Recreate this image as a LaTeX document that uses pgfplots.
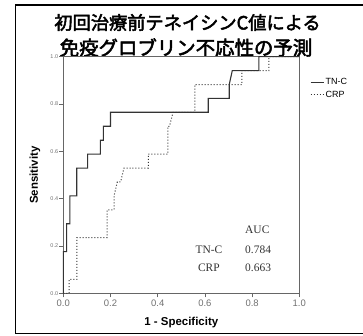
\documentclass[border=0pt]{standalone}
\usepackage{pgfplots}
\pgfplotsset{compat=1.18}
\usepackage{fontspec}
\setmainfont{Liberation Sans}
\newfontfamily\cjk[FakeBold=2.6]{Noto Sans CJK JP}
\newfontfamily\serif{Liberation Serif}
\definecolor{axgray}{HTML}{666666}
\definecolor{lblgray}{HTML}{707070}
\definecolor{curve}{HTML}{333333}
\begin{document}
\begin{tikzpicture}
\useasboundingbox (0,0) rectangle (363bp,336bp);
\draw[black, line width=1.3bp] (363bp,331bp) -- (15.3bp,331bp) -- (15.3bp,2.7bp) -- (363bp,2.7bp);
\node[font=\cjk\fontsize{18.3}{20}\selectfont, inner sep=0pt, anchor=center] at (187.5bp,313.5bp) {初回治療前テネイシンC値による};
\node[font=\cjk\fontsize{19.5}{20}\selectfont, inner sep=0pt, anchor=center] at (186bp,288.5bp) {免疫グロブリン不応性の予測};
\begin{axis}[
  at={(63.3bp,42.7bp)}, anchor=south west,
  scale only axis, width=236bp, height=236.6bp,
  xmin=0, xmax=1, ymin=0, ymax=1,
  clip=false,
  axis line style={axgray, line width=0.9bp},
  tick style={axgray, line width=0.7bp},
  tick align=outside, major tick length=4bp,
  xtick pos=bottom, ytick pos=left,
  xtick={0,0.2,0.4,0.6,0.8,1.0},
  ytick={0,0.2,0.4,0.6,0.8,1.0},
  xticklabels={0.0,0.2,0.4,0.6,0.8,1.0},
  yticklabels={0.0,0.2,0.4,0.6,0.8,1.0},
  xticklabel style={font=\fontsize{9.5}{10}\selectfont, text=lblgray, anchor=north, yshift=1bp},
  yticklabel style={font=\fontsize{5.5}{6}\selectfont, text=lblgray, anchor=east, inner sep=1bp},
  xlabel={\bfseries 1 - Specificity},
  ylabel={\bfseries Sensitivity},
  xlabel style={font=\fontsize{11.5}{12}\selectfont, at={(axis description cs:0.5,-0.125)}, anchor=center},
  ylabel style={font=\fontsize{11.5}{12}\selectfont, at={(axis description cs:-0.12,0.5)}, anchor=center, rotate=0},
  legend style={at={(axis description cs:1.045,0.915)}, anchor=north west, draw=none, fill=none,
    font=\fontsize{9}{10}\selectfont, inner sep=0pt, row sep=1.5bp,
    nodes={inner sep=1.5bp, text=black}},
  legend image code/.code={\draw[#1] (0bp,0bp) -- (13bp,0bp);},
  legend cell align=left,
]
\addplot[curve, line width=1.1bp] coordinates {
(0,0) (0,0.176) (0.014,0.176) (0.014,0.294) (0.028,0.294) (0.028,0.412)
(0.057,0.412) (0.057,0.529) (0.103,0.529) (0.103,0.588) (0.157,0.588)
(0.157,0.647) (0.170,0.647) (0.170,0.706) (0.200,0.706) (0.200,0.765)
(0.614,0.765) (0.614,0.824) (0.703,0.824) (0.703,0.882) (0.716,0.941)
(0.829,0.941) (0.829,1) (1,1)};
\addlegendentry{TN-C}
\addplot[curve, line width=1.0bp, dotted] coordinates {
(0,0) (0.025,0) (0.025,0.059) (0.057,0.059) (0.057,0.235) (0.186,0.235)
(0.186,0.353) (0.215,0.353) (0.215,0.412) (0.229,0.471) (0.243,0.471)
(0.257,0.529) (0.360,0.529) (0.360,0.588) (0.443,0.588) (0.443,0.706)
(0.450,0.706) (0.465,0.765) (0.557,0.765) (0.557,0.882) (0.757,0.882)
(0.757,0.941) (0.871,0.941) (0.871,1) (1,1)};
\addlegendentry{CRP}
\node[anchor=west, font=\serif\fontsize{11.5}{12}\selectfont, text=curve, inner sep=0pt] at (axis cs:0.77,0.267) {AUC};
\node[anchor=center, font=\serif\fontsize{11.5}{12}\selectfont, text=curve, inner sep=0pt] at (axis cs:0.617,0.183) {TN-C};
\node[anchor=west, font=\serif\fontsize{11.5}{12}\selectfont, text=curve, inner sep=0pt] at (axis cs:0.77,0.183) {0.784};
\node[anchor=center, font=\serif\fontsize{11.5}{12}\selectfont, text=curve, inner sep=0pt] at (axis cs:0.617,0.107) {CRP};
\node[anchor=west, font=\serif\fontsize{11.5}{12}\selectfont, text=curve, inner sep=0pt] at (axis cs:0.77,0.107) {0.663};
\end{axis}
\end{tikzpicture}
\end{document}
